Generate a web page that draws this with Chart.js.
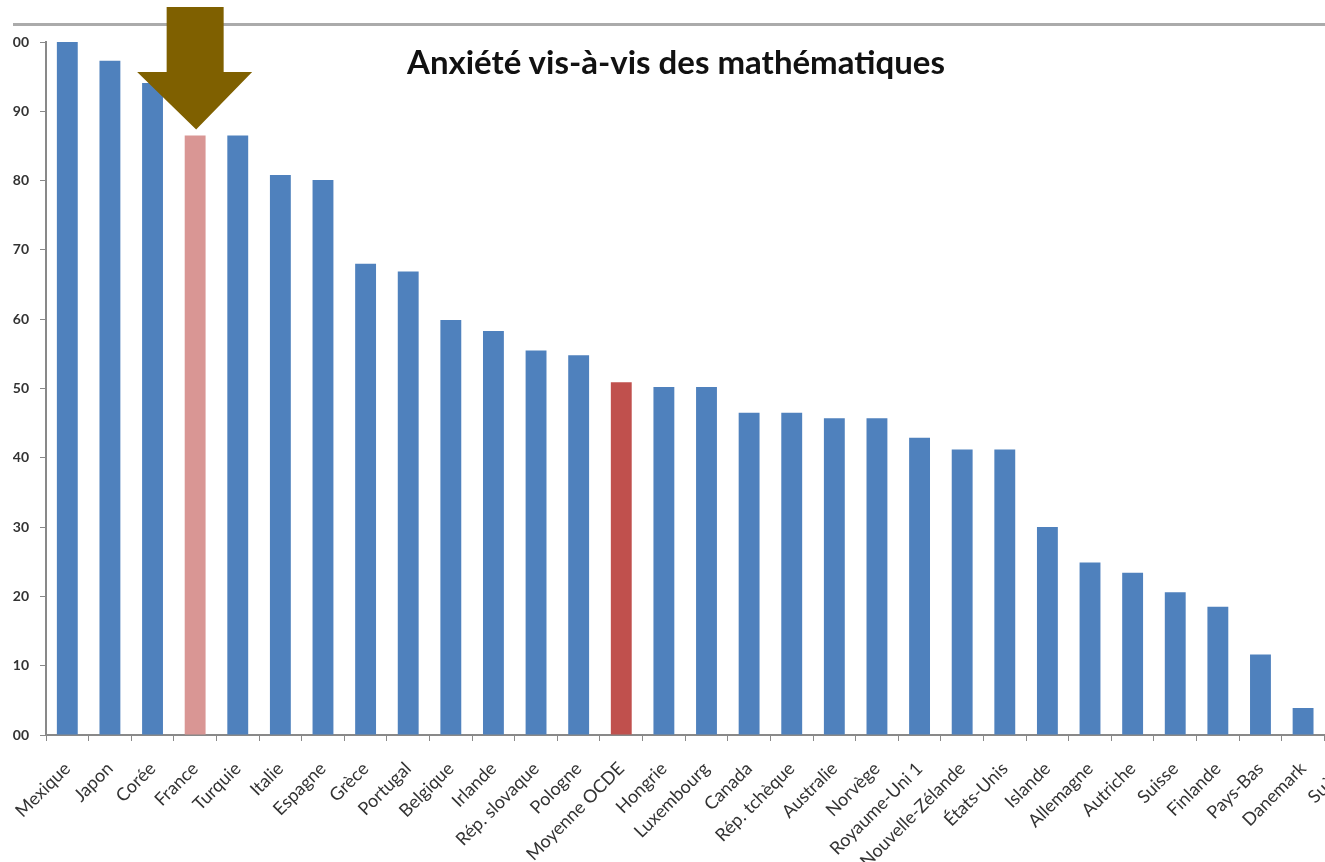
<!DOCTYPE html>
<html lang="fr">
<head>
<meta charset="utf-8">
<title>Anxiété vis-à-vis des mathématiques</title>
<script src="https://cdn.jsdelivr.net/npm/chart.js@4.4.1/dist/chart.umd.min.js"></script>
<style>
    html, body { margin: 0; padding: 0; background: #fff; overflow: hidden; }
    body { width: 1325px; height: 862px; position: relative; }
    #wrap { position: absolute; left: 13px; top: 0; width: 1312px; height: 862px; overflow: hidden; background: #fff; }
    #frameTop { position: absolute; left: 0; right: 0; top: 23px; height: 3px; background: #ababab; }
    #chart { position: absolute; left: -40px; top: 0; }
    #title {
        position: absolute; left: 0; width: 1352px; top: 43px;
        text-align: center; font: bold 33px Lato, sans-serif; line-height: 36px; color: #111;
    }
</style>
</head>
<body>
<div id="wrap">
    <div id="frameTop"></div>
    <canvas id="chart" width="1420" height="862"></canvas>
</div>
<div id="title">Anxiété vis-à-vis des mathématiques</div>

<script>
// ---------- Data ----------
const countries = [
    'Mexique', 'Japon', 'Corée', 'France', 'Turquie', 'Italie', 'Espagne', 'Grèce',
    'Portugal', 'Belgique', 'Irlande', 'Rép. slovaque', 'Pologne', 'Moyenne OCDE',
    'Hongrie', 'Luxembourg', 'Canada', 'Rép. tchèque', 'Australie', 'Norvège',
    'Royaume-Uni 1', 'Nouvelle-Zélande', 'États-Unis', 'Islande', 'Allemagne',
    'Autriche', 'Suisse', 'Finlande', 'Pays-Bas', 'Danemark', 'Suède',
];
const anxiety = [
    1.00, 0.973, 0.941, 0.865, 0.865, 0.808, 0.801, 0.680,
    0.669, 0.599, 0.583, 0.555, 0.548, 0.509,
    0.502, 0.502, 0.465, 0.465, 0.457, 0.457,
    0.429, 0.412, 0.412, 0.300, 0.249,
    0.234, 0.206, 0.185, 0.116, 0.039, 0.02,
];
const yTicks = [0, 0.1, 0.2, 0.3, 0.4, 0.5, 0.6, 0.7, 0.8, 0.9, 1.0];

const highlight = 'France';
const average = 'Moyenne OCDE';

const barColors = countries.map(c =>
    c === highlight ? '#d99694' : (c === average ? '#c0504d' : '#4f81bd'));

// ---------- Arrow pointing at France ----------
const arrowPlugin = {
    id: 'arrow',
    afterDatasetsDraw(chart) {
        const { ctx, scales } = chart;
        const i = countries.indexOf(highlight);
        const x = scales.x.getPixelForValue(i);
        const tip = scales.y.getPixelForValue(anxiety[i]) - 6;
        ctx.save();
        ctx.fillStyle = '#7f6000';
        ctx.beginPath();
        ctx.moveTo(x - 28.5, 7);
        ctx.lineTo(x + 28.5, 7);
        ctx.lineTo(x + 28.5, 72);
        ctx.lineTo(x + 57, 72);
        ctx.lineTo(x + 1, tip);
        ctx.lineTo(x - 58, 72);
        ctx.lineTo(x - 28.5, 72);
        ctx.closePath();
        ctx.fill();
        ctx.restore();
    },
};

Chart.defaults.font.family = 'Lato';
Chart.defaults.animation = false;

new Chart(document.getElementById('chart'), {
    type: 'bar',
    data: {
        labels: countries,
        datasets: [{
            data: anxiety,
            backgroundColor: barColors,
            categoryPercentage: 1,
            barPercentage: 0.49,
        }],
    },
    options: {
        responsive: false,
        layout: { padding: { top: 42, right: 26, left: 0, bottom: 0 } },
        plugins: {
            legend: { display: false },
            tooltip: { enabled: false },
        },
        scales: {
            x: {
                afterFit: s => { s.height = 127; },
                border: { color: '#898989', width: 2 },
                grid: { drawOnChartArea: false, color: '#898989', tickLength: 6, offset: true },
                ticks: {
                    autoSkip: false,
                    minRotation: 45,
                    maxRotation: 45,
                    padding: 17,
                    color: '#333333',
                    font: { size: 18 },
                },
            },
            y: {
                min: 0,
                max: 1,
                afterFit: s => { s.width = 73; },
                afterBuildTicks: s => { s.ticks = yTicks.map(v => ({ value: v })); },
                border: { color: '#898989', width: 2 },
                grid: { drawOnChartArea: false, color: '#898989', tickLength: 6 },
                ticks: {
                    padding: 11,
                    color: '#333333',
                    font: { size: 14, weight: 'bold' },
                    callback: v => v.toFixed(2).replace('.', ','),
                },
            },
        },
    },
    plugins: [arrowPlugin],
});
</script>
</body>
</html>
